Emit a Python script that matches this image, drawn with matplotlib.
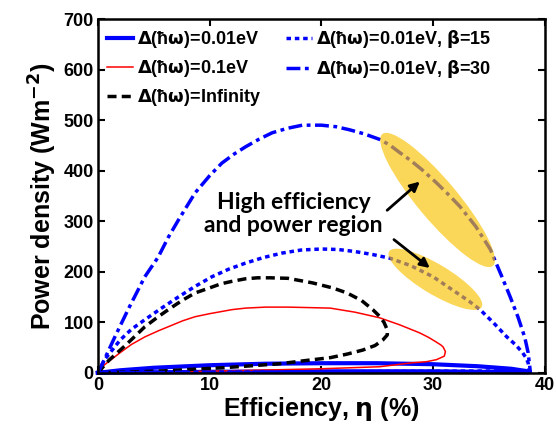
import numpy as np
import matplotlib.pyplot as plt
import matplotlib.transforms as mtransforms
from matplotlib.patches import Ellipse

plt.rcParams['font.family'] = ['Liberation Sans', 'DejaVu Sans']
plt.rcParams['font.weight'] = 'bold'
plt.rcParams['mathtext.default'] = 'bf'

# --- datos (eficiencia %, potencia W/m2) ---
eta_001 = [0, 2, 5, 10, 15, 20, 25, 30, 34, 37, 38.5, 38.5, 30, 20, 10, 0]
p_001 = [0, 5, 10, 15, 18, 19, 19, 17, 13, 8, 3, 1, 3, 3, 2, 0]

eta_01 = [0, 0.6, 2, 3, 4.2, 5.4, 6.5, 7.6, 8.7, 10, 11, 12, 13.2, 15, 17, 19, 20.8,
          23, 25.2, 27, 28.8, 29.6, 30.2, 30.7, 30.9, 31.1, 31.0, 30.3, 29.4, 28.2,
          25.2, 20, 14, 7, 0]
p_01 = [0, 16, 40, 56, 71, 83, 93, 103, 111, 117, 121, 125, 128, 130, 130, 129, 128,
        120, 109, 95, 79, 70, 62, 55, 51, 42, 33, 26, 22, 20,
        12, 8, 5, 2, 0]

eta_inf = [0, 1, 2.5, 4.2, 5.4, 6.5, 7.6, 8.7, 10, 11, 12, 13.2, 14.3, 15.4, 17,
           19.2, 21, 22.3, 23.6, 24.6, 25.2, 25.6, 25.9, 25.9, 25.5, 24.8, 23.7,
           22.3, 20.8, 18.5, 16.3, 13.8, 11.2, 8.5, 6, 4, 2, 0]
p_inf = [0, 25, 55, 91, 111, 128, 144, 158, 168, 176, 181, 186, 188, 188, 187,
         178, 168, 158, 143, 125, 112, 100, 85, 75, 65, 54, 45,
         37, 30, 24, 18, 14, 10, 7, 4, 2.5, 1, 0]

eta_b15 = [0, 0.6, 2, 3, 4.2, 5.7, 7.2, 8.7, 10.2, 11.7, 13.2, 14.8, 16.5, 18.2, 20,
           21.5, 23, 24.6, 26.1, 28, 30, 32, 33.2, 34.2, 35.4,
           36.6, 37.4, 38.0, 38.3, 38.5, 38.6, 20, 0]
p_b15 = [0, 26, 65, 86, 105, 128, 150, 171, 190, 205, 217, 228, 237, 243, 245,
         244, 240, 234, 227, 212, 190, 160, 142, 125, 99,
         71, 55, 40, 30, 20, 4, 2, 0]

eta_b30 = [0, 0.45, 1.5, 2.7, 4.2, 5.4, 6.3, 7.2, 8.7, 10, 11.1, 12.2, 13.2, 14.4,
           15.6, 17, 18.3, 20, 21.3, 22.5, 23.8, 25.2, 26.1, 27, 28, 29, 30.3, 31.4,
           32.4, 33.8, 35.1, 36.1, 36.9, 37.6, 38.2, 38.5, 38.7, 20, 0]
p_b30 = [0, 20, 70, 125, 190, 229, 268, 302, 356, 390, 415, 433, 447, 462,
         475, 484, 490, 490, 487, 481, 473, 462, 451, 436, 420, 402, 376, 352,
         329, 290, 245, 193, 150, 110, 70, 40, 2, 2, 0]

fig = plt.figure(figsize=(5.56, 4.33), dpi=100)
ax = fig.add_axes([0.176, 0.139, 0.804, 0.817])

azul = '#0000ff'
ax.plot(eta_001, p_001, color=azul, lw=3, label=r'$\Delta$(ħ$\omega$)=0.01eV', clip_on=False)
ax.plot(eta_01, p_01, color='#ff0000', lw=1.1, label=r'$\Delta$(ħ$\omega$)=0.1eV')
ax.plot(eta_inf, p_inf, color='k', lw=2.5, linestyle=(0, (2.6, 1.5)),
        label=r'$\Delta$(ħ$\omega$)=Infinity')
ax.plot(eta_b15, p_b15, color=azul, lw=2.5, linestyle=(0, (1.3, 1.1)),
        label=r'$\Delta$(ħ$\omega$)=0.01eV, $\beta$=15')
ax.plot(eta_b30, p_b30, color=azul, lw=2.5, linestyle=(0, (4, 1.3, 1.1, 1.3)),
        label=r'$\Delta$(ħ$\omega$)=0.01eV, $\beta$=30')

# elipses amarillas (tamano en pulgadas, posicion en datos)
for cx, cy, w, h, ang in [(30.4, 342, 1.72, 0.40, -50), (30.2, 185, 1.08, 0.30, -31)]:
    tr = fig.dpi_scale_trans + mtransforms.ScaledTranslation(cx, cy, ax.transData)
    ax.add_patch(Ellipse((0, 0), w, h, angle=ang, transform=tr,
                         facecolor=(0.98, 0.76, 0.0), alpha=0.65, edgecolor='none', zorder=5))

ax.text(17.5, 314, 'High efficiency\nand power region', ha='center', va='center',
        fontsize=16.5, family=['Lato', 'DejaVu Sans'], fontweight='bold',
        linespacing=1.1, zorder=6)
ax.annotate('', xy=(29.0, 382), xytext=(25.7, 318),
            arrowprops=dict(arrowstyle='-|>', color='k', lw=2, mutation_scale=14), zorder=6)
ax.annotate('', xy=(29.9, 204), xytext=(26.3, 267),
            arrowprops=dict(arrowstyle='-|>', color='k', lw=2, mutation_scale=14), zorder=6)

ax.set_xlim(0, 40)
ax.set_ylim(0, 700)
ax.set_xticks([0, 10, 20, 30, 40])
ax.set_yticks(range(0, 701, 100))
ax.tick_params(direction='in', top=True, right=True, length=5, width=1.5,
               labelsize=13, pad=3)
for s in ax.spines.values():
    s.set_linewidth(1.8)

ax.set_xlabel(r'Efficiency, $\eta$ (%)', fontsize=18, fontweight='bold', labelpad=1)
ax.set_ylabel(r'Power density (Wm$^{-2}$)', fontsize=18, fontweight='bold', labelpad=3)

ax.legend(loc='upper left', ncol=2, frameon=False, fontsize=13, handlelength=1.45,
          handletextpad=0.2, columnspacing=1.4, labelspacing=0.45,
          borderaxespad=0.3, borderpad=0.2)

fig.savefig('out.png', dpi=100)
